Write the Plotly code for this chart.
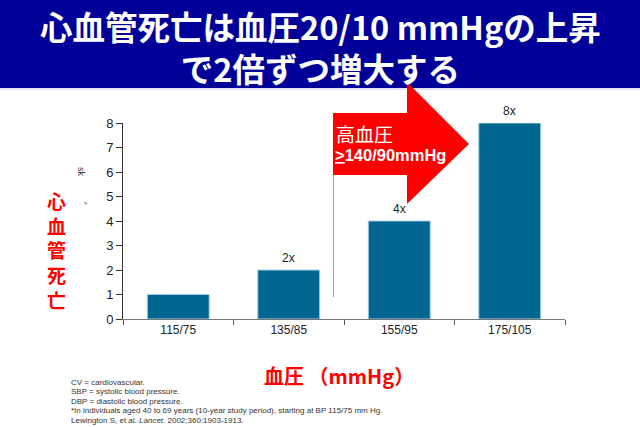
import plotly.graph_objects as go

categories = ["115/75", "135/85", "155/95", "175/105"]
risk_values = [1, 2, 4, 8]
bar_labels = ["", "2x", "4x", "8x"]
y_ticks = [0, 1, 2, 3, 4, 5, 6, 7, 8]

title_line1 = "心血管死亡は血圧20/10 mmHgの上昇"
title_line2 = "で2倍ずつ増大する"
y_label = "心血管死亡"
x_label = "血圧 （mmHg）"
arrow_line1 = "高血圧"
arrow_line2 = "<u>&gt;</u>140/90mmHg"
footnotes = [
    "CV = cardiovascular.",
    "SBP = systolic blood pressure.",
    "DBP = diastolic blood pressure.",
    "*In individuals aged 40 to 69 years (10-year study period), starting at BP 115/75 mm Hg.",
    "Lewington S, et al. <i>Lancet</i>. 2002;360:1903-1913.",
]

W, H = 640, 427
L, R, T, B = 123, 75, 123, 108
PW, PH = W - L - R, H - T - B

def px(x):
    return (x - L) / PW

def py(y):
    return (H - B - y) / PH

fig = go.Figure()
fig.add_trace(go.Bar(
    x=categories, y=risk_values,
    marker=dict(color="#006690", line=dict(color="#9fd0e4", width=1)),
    width=0.56, hoverinfo="skip",
))

shapes = []
shapes.append(dict(type="rect", xref="paper", yref="paper",
                   x0=px(0), x1=px(W), y0=py(88), y1=py(0),
                   fillcolor="#000099", line=dict(width=0), layer="above"))
shapes.append(dict(type="line", xref="paper", yref="paper",
                   x0=px(0), x1=px(W), y0=py(89), y1=py(89),
                   line=dict(color="#d8d8ee", width=1.5), layer="above"))
pts = [(333, 113), (407, 113), (407, 82), (469, 144), (407, 204), (407, 175), (333, 175)]
path = "M " + " L ".join(f"{px(a):.4f},{py(b):.4f}" for a, b in pts) + " Z"
shapes.append(dict(type="path", xref="paper", yref="paper", path=path,
                   fillcolor="#ff0000", line=dict(width=0), layer="above"))
shapes.append(dict(type="line", xref="paper", yref="paper",
                   x0=px(333.5), x1=px(333.5), y0=py(175), y1=py(297),
                   line=dict(color="#f08080", width=1), layer="above"))

def note(text, x, y, size, color, family, xanchor="center", **kw):
    return dict(text=text, x=px(x), y=py(y), xref="paper", yref="paper",
                xanchor=xanchor, yanchor="middle", showarrow=False,
                font=dict(family=family, size=size, color=color), **kw)

ann = []
ann.append(note(f"<b>{title_line1}<br>{title_line2}</b>", 320, 46, 32.5, "white", "Noto Sans CJK JP"))
ann.append(note(arrow_line1, 334, 133, 19, "white", "Noto Sans CJK JP", xanchor="left"))
ann.append(note(f"<b>{arrow_line2}</b>", 333, 155, 16.5, "white", "Liberation Sans", xanchor="left"))
for c, v, t in zip(categories, risk_values, bar_labels):
    if t:
        ann.append(dict(text=t, x=c, y=v, xref="x", yref="y", xanchor="center", yanchor="bottom", yshift=3,
                        showarrow=False, font=dict(family="Liberation Sans", size=12, color="#222")))
ann.append(note("<b>" + "<br>".join(y_label) + "</b>", 56, 250, 19, "#ff0000", "Noto Sans CJK JP"))
ann.append(note("sk", 81, 172, 9, "#333", "Liberation Sans", textangle=90))
ann.append(note("、", 88, 200, 9, "#333", "Noto Sans CJK JP"))
ann.append(note(f"<b>{x_label}</b>", 339, 375, 20, "#ff0000", "Noto Sans CJK JP"))
for i, line in enumerate(footnotes):
    ann.append(note(line, 69, 382 + i * 9.6, 8, "#333", "Liberation Sans", xanchor="left"))

fig.update_layout(
    width=W, height=H, margin=dict(l=L, r=R, t=T, b=B),
    paper_bgcolor="white", plot_bgcolor="white", showlegend=False,
    shapes=shapes, annotations=ann,
    xaxis=dict(showgrid=False, showline=True, linecolor="#777", linewidth=1,
               ticks="outside", tickson="boundaries", ticklen=5, tickcolor="#555",
               tickfont=dict(family="Liberation Sans", size=12, color="#222"), range=[-0.5, 3.5]),
    yaxis=dict(showgrid=False, showline=True, linecolor="#333", linewidth=1, zeroline=False,
               ticks="outside", ticklen=6, tickcolor="#333", tickvals=y_ticks, range=[0, 8],
               tickfont=dict(family="Liberation Sans", size=13, color="#222")),
)
fig.write_html("out.html", config={"displayModeBar": False},
               post_script="document.body.style.margin='0';")
